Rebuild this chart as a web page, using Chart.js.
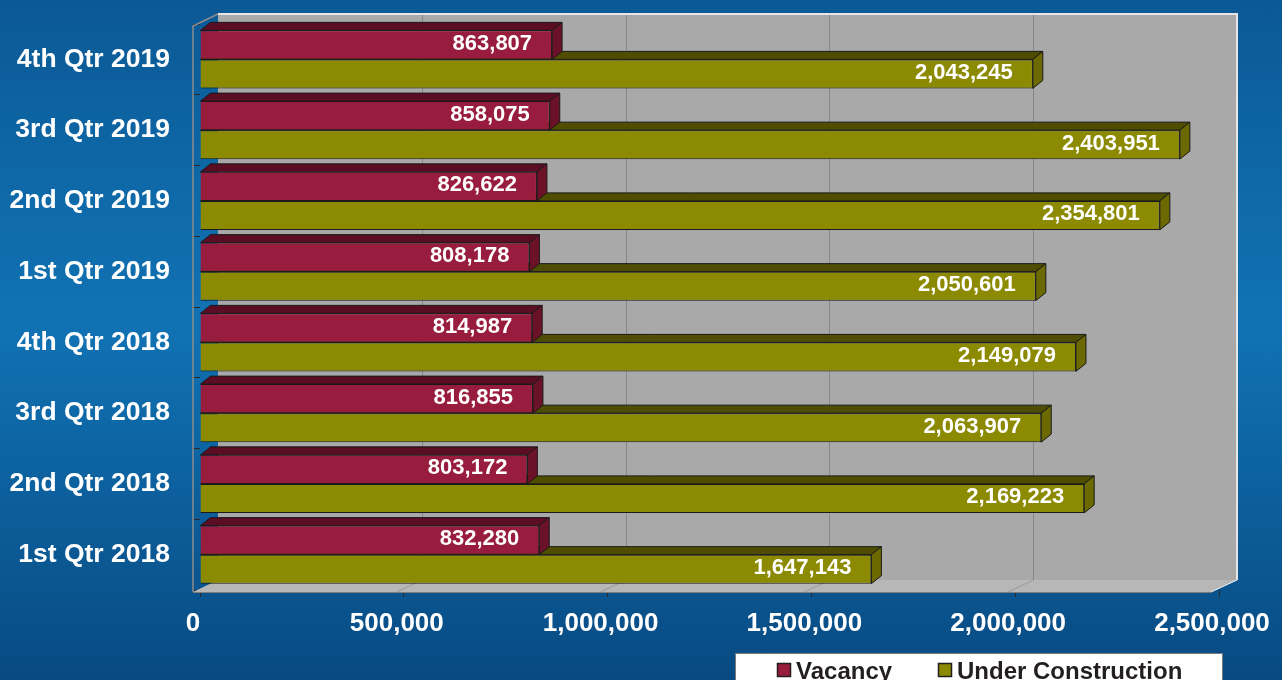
<!DOCTYPE html>
<html>
<head>
<meta charset="utf-8">
<script src="https://cdn.jsdelivr.net/npm/chart.js@4.4.1/dist/chart.umd.min.js"></script>
<style>
  html, body { margin: 0; padding: 0; }
  body {
    width: 1282px; height: 680px; overflow: hidden;
    background: linear-gradient(180deg, #0b5995 0%, #0f6aa9 30%, #1172b3 48%, #0d63a1 68%, #084a82 100%);
  }
  canvas { display: block; }
</style>
</head>
<body>
<canvas id="grafico" width="1282" height="680"></canvas>
<script>
// Datos (de arriba hacia abajo)
const trimestres = ['4th Qtr 2019', '3rd Qtr 2019', '2nd Qtr 2019', '1st Qtr 2019',
                    '4th Qtr 2018', '3rd Qtr 2018', '2nd Qtr 2018', '1st Qtr 2018'];
const vacancy = [863807, 858075, 826622, 808178, 814987, 816855, 803172, 832280];
const underConstruction = [2043245, 2403951, 2354801, 2050601, 2149079, 2063907, 2169223, 1647143];
const ticksX = [0, 500000, 1000000, 1500000, 2000000, 2500000];

const FUENTE = '"Liberation Sans", Arial, sans-serif';
const fmt = v => Number(v).toLocaleString('en-US');

// colores de las caras 3D
const caras = [
  { frente: '#981c3e', arriba: '#5a0d23', lado: '#6b1229' },
  { frente: '#8c8a00', arriba: '#4f4d00', lado: '#6b6900' }
];

// Paredes, piso y caras superiores/laterales de las barras
const fondo3d = {
  id: 'fondo3d',
  beforeDatasetsDraw(chart) {
    const { ctx, chartArea: a, scales: { x } } = chart;
    const F = a.left - 7, T = a.top + 2, B = a.bottom + 2;
    const bx = F + 25, by = -12;
    const wallR = x.getPixelForValue(2500000) + 18;
    ctx.save();
    // pared del fondo
    ctx.fillStyle = '#a9a9a9';
    ctx.fillRect(bx, T + by, wallR - bx, B - T);
    // líneas de la grilla
    ctx.strokeStyle = '#878787';
    ctx.lineWidth = 1;
    ticksX.slice(1, -1).forEach(v => {
      const gx = Math.round(x.getPixelForValue(v) + 18) + 0.5;
      ctx.beginPath(); ctx.moveTo(gx, T + by); ctx.lineTo(gx, B + by); ctx.stroke();
    });
    // borde superior y derecho claro
    ctx.strokeStyle = '#e6e6e6';
    ctx.lineWidth = 2;
    ctx.beginPath(); ctx.moveTo(bx, T + by); ctx.lineTo(wallR, T + by); ctx.lineTo(wallR, B + by); ctx.stroke();
    // piso
    const frontR = x.getPixelForValue(2500000) - 8;
    ctx.fillStyle = '#b7b7b7';
    ctx.beginPath();
    ctx.moveTo(F, B); ctx.lineTo(frontR, B); ctx.lineTo(wallR, B + by); ctx.lineTo(bx, B + by);
    ctx.closePath(); ctx.fill();
    ctx.strokeStyle = '#9a9a9a';
    ctx.lineWidth = 1;
    ticksX.slice(1, -1).forEach(v => {
      ctx.beginPath();
      ctx.moveTo(x.getPixelForValue(v) + 18, B + by);
      ctx.lineTo(x.getPixelForValue(v) - 7, B);
      ctx.stroke();
    });
    ctx.strokeStyle = '#f2f2f2';
    ctx.beginPath(); ctx.moveTo(frontR, B); ctx.lineTo(wallR, B + by); ctx.stroke();
    ctx.strokeStyle = '#7d7d7d';
    ctx.beginPath(); ctx.moveTo(F, B + 0.5); ctx.lineTo(frontR, B + 0.5); ctx.stroke();
    // pared izquierda (solo el borde)
    ctx.strokeStyle = '#8c8c8c';
    ctx.lineWidth = 1.5;
    ctx.beginPath(); ctx.moveTo(bx, T + by); ctx.lineTo(F, T); ctx.lineTo(F, B); ctx.stroke();

    // caras 3D de las barras (primero la serie de abajo)
    const dx = 10, dy = -8;
    for (let d = chart.data.datasets.length - 1; d >= 0; d--) {
      const meta = chart.getDatasetMeta(d);
      const c = caras[d];
      meta.data.forEach(bar => {
        const top = bar.y - bar.height / 2, bot = bar.y + bar.height / 2;
        const x0 = bar.base, x1 = bar.x;
        ctx.lineWidth = 1;
        ctx.strokeStyle = '#1a1a1a';
        ctx.fillStyle = c.arriba;
        ctx.beginPath();
        ctx.moveTo(x0, top); ctx.lineTo(x0 + dx, top + dy); ctx.lineTo(x1 + dx, top + dy); ctx.lineTo(x1, top);
        ctx.closePath(); ctx.fill(); ctx.stroke();
        ctx.fillStyle = c.lado;
        ctx.beginPath();
        ctx.moveTo(x1, top); ctx.lineTo(x1 + dx, top + dy); ctx.lineTo(x1 + dx, bot + dy); ctx.lineTo(x1, bot);
        ctx.closePath(); ctx.fill(); ctx.stroke();
      });
    }
    ctx.restore();
  },
  afterDatasetsDraw(chart) {
    const { ctx } = chart;
    ctx.save();
    ctx.font = 'bold 22px ' + FUENTE;
    ctx.fillStyle = '#ffffff';
    ctx.textAlign = 'right';
    ctx.textBaseline = 'middle';
    chart.data.datasets.forEach((ds, d) => {
      chart.getDatasetMeta(d).data.forEach((bar, i) => {
        ctx.fillText(fmt(ds.data[i]), bar.x - 20, bar.y - 1);
      });
    });
    ctx.restore();
  },
  afterDraw(chart) {
    // leyenda en caja blanca abajo a la derecha
    const { ctx } = chart;
    ctx.save();
    ctx.fillStyle = '#ffffff';
    ctx.fillRect(735, 653, 488, 40);
    ctx.strokeStyle = '#7a7a7a';
    ctx.lineWidth = 1;
    ctx.strokeRect(735.5, 653.5, 487, 40);
    ctx.font = 'bold 24px ' + FUENTE;
    ctx.textBaseline = 'alphabetic';
    ctx.textAlign = 'left';
    const xs = [777, 938];
    chart.data.datasets.forEach((ds, d) => {
      ctx.fillStyle = ds.backgroundColor;
      ctx.fillRect(xs[d], 663, 14, 14);
      ctx.strokeStyle = '#231f20';
      ctx.lineWidth = 1.5;
      ctx.strokeRect(xs[d] + 0.5, 663.5, 13, 13);
      ctx.fillStyle = '#231f20';
      ctx.fillText(ds.label, xs[d] + 19, 679);
    });
    ctx.restore();
  }
};

new Chart(document.getElementById('grafico'), {
  type: 'bar',
  data: {
    labels: trimestres,
    datasets: [
      {
        label: 'Vacancy',
        data: vacancy,
        backgroundColor: caras[0].frente,
        borderColor: '#1a1a1a',
        borderWidth: 1,
        barPercentage: 1,
        categoryPercentage: 0.82
      },
      {
        label: 'Under Construction',
        data: underConstruction,
        backgroundColor: caras[1].frente,
        borderColor: '#1a1a1a',
        borderWidth: 1,
        barPercentage: 1,
        categoryPercentage: 0.82
      }
    ]
  },
  options: {
    indexAxis: 'y',
    responsive: false,
    animation: false,
    devicePixelRatio: 1,
    layout: { padding: { top: 24, right: 63, left: 0, bottom: 0 } },
    plugins: {
      legend: { display: false },
      tooltip: { enabled: false }
    },
    scales: {
      x: {
        min: 0,
        max: 2500000,
        afterFit: s => { s.height = 90; s.paddingLeft = 0; s.paddingRight = 0; },
        afterBuildTicks: s => { s.ticks = ticksX.map(v => ({ value: v })); },
        grid: { drawOnChartArea: false, drawTicks: true, tickLength: 7, color: '#2a2a2a' },
        border: { display: false },
        ticks: {
          color: '#ffffff',
          font: { family: FUENTE, size: 26, weight: 'bold' },
          padding: 11,
          labelOffset: -7,
          maxRotation: 0,
          callback: v => fmt(v)
        }
      },
      y: {
        afterFit: s => { s.width = 200; s.paddingTop = 0; s.paddingBottom = 0; },
        grid: { drawOnChartArea: false, drawTicks: true, tickLength: 7, color: '#2a2a2a', offset: true },
        border: { display: false },
        ticks: {
          color: '#ffffff',
          font: { family: FUENTE, size: 26.5, weight: 'bold' },
          padding: 23
        }
      }
    }
  },
  plugins: [fondo3d]
});
</script>
</body>
</html>
